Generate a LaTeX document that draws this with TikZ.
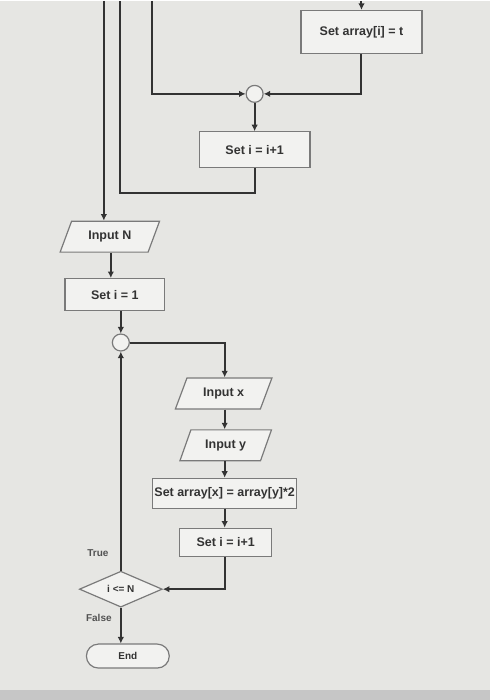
\documentclass[tikz,border=0pt]{standalone}
\usepackage{fontspec}
\setmainfont{Liberation Sans}
\usetikzlibrary{shapes.geometric,shapes.misc,arrows.meta}
\definecolor{bg}{HTML}{E6E6E3}
\definecolor{ln}{HTML}{333333}
\definecolor{bx}{HTML}{F2F2F0}
\begin{document}
\begin{tikzpicture}[x=1pt,y=-1pt,
  base/.style={draw=ln!65,line width=1.2pt,fill=bx,font=\bfseries\fontsize{12.5}{14}\selectfont,text=ln,inner sep=0pt},
  procbox/.style={base,rectangle},
  io/.style={base,trapezium,trapezium left angle=60,trapezium right angle=120,minimum height=31pt,trapezium stretches=true},
  dec/.style={base,diamond,aspect=2.3,minimum width=83pt,minimum height=36pt,inner sep=0pt},
  term/.style={base,rounded rectangle,minimum width=83pt,minimum height=24pt},
  junc/.style={draw=ln!65,line width=1.2pt,fill=bx,circle,minimum size=17pt,inner sep=0pt},
  conn/.style={draw=ln,line width=2pt,-{Latex[length=6.5pt,width=6.5pt]}},
  line/.style={draw=ln,line width=2pt},
  small/.style={font=\bfseries\fontsize{10}{12}\selectfont},
  lbl/.style={font=\bfseries\fontsize{10}{12}\selectfont,text=ln!85}]
\fill[bg] (0,0) rectangle (491,700);
\fill[gray!45] (0,690) rectangle (491,700);
% top part
\node[procbox,minimum width=121pt,minimum height=43pt] (sa) at (362,31) {Set array[i] = t};
\coordinate (satop) at (362,0);
\node[junc] (j1) at (255,93) {};
\node[procbox,minimum width=111pt,minimum height=36pt] (si1) at (255,149) {Set i = i+1};
\coordinate (t1) at (152,0);
\coordinate (t2) at (120,0);
\coordinate (t3) at (104,0);
\draw[conn] (satop) -- (sa.north);
\draw[conn] (t1) |- (j1.west);
\draw[conn] (sa.south) |- (j1.east);
\draw[conn] (j1) -- (si1.north);
\draw[line] (si1.south) |- (120,192) -- (t2);
% main part
\node[io,minimum width=100pt] (inN) at (110,236) {Input N};
\node[procbox,minimum width=100pt,minimum height=32pt] (s1) at (115,294) {Set i = 1};
\node[junc] (j2) at (121,342) {};
\node[io,minimum width=97pt] (inx) at (224,393) {Input x};
\node[io,minimum width=92pt] (iny) at (226,445) {Input y};
\node[procbox,minimum width=144pt,minimum height=30pt] (sxy) at (225,493) {Set array[x] = array[y]*2};
\node[procbox,minimum width=92pt,minimum height=28pt] (si2) at (226,542) {Set i = i+1};
\node[dec,small] (d) at (121,589) {i <= N};
\node[term,small] (end) at (128,656) {End};
\draw[conn] (t3) -- (inN.north -| t3);
\draw[conn] (inN.south -| 111,0) -- (s1.north -| 111,0);
\draw[conn] (s1.south -| j2) -- (j2.north);
\draw[conn] (j2.east) -| (inx.north -| 225,0);
\draw[conn] (inx.south -| 225,0) -- (iny.north -| 225,0);
\draw[conn] (iny.south -| 225,0) -- (sxy.north -| 225,0);
\draw[conn] (sxy.south -| 225,0) -- (si2.north -| 225,0);
\draw[conn] (si2.south -| 225,0) |- (d.east);
\draw[conn] (d.north) -- (j2.south);
\draw[conn] (d.south) -- (end.north -| d.south);
\node[lbl] (ltrue) at (98,553) {True};
\node[lbl] (lfalse) at (99,618) {False};
\end{tikzpicture}
\end{document}
